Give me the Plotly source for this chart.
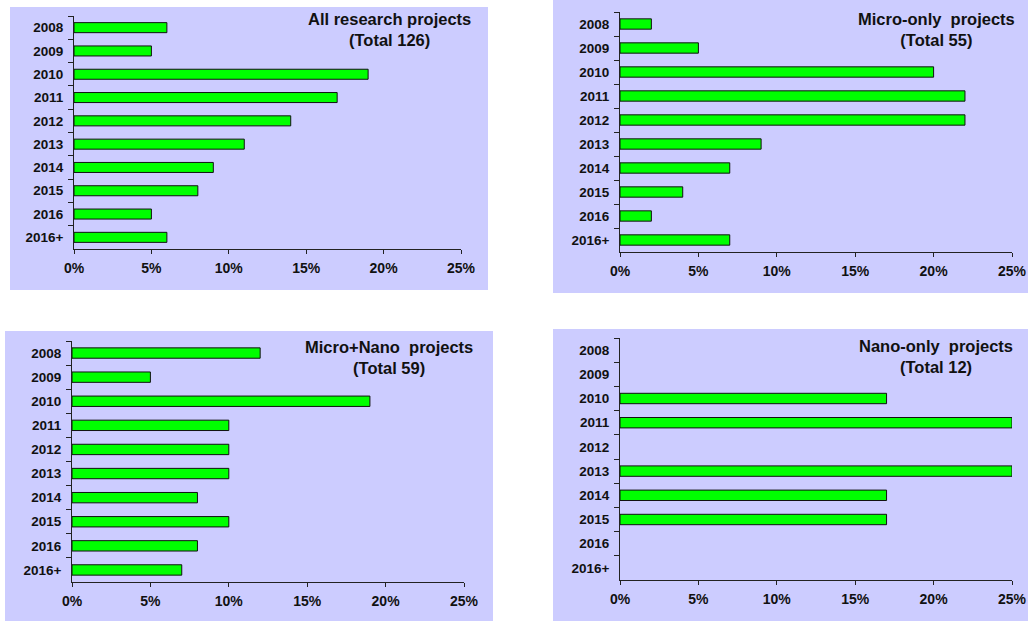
import plotly.graph_objects as go

# Share of projects by year (percent)
years = ["2008", "2009", "2010", "2011", "2012", "2013", "2014", "2015", "2016", "2016+"]
all_projects = [6, 5, 19, 17, 14, 11, 9, 8, 5, 6]
micro_only = [2, 5, 20, 22, 22, 9, 7, 4, 2, 7]
micro_nano = [12, 5, 19, 10, 10, 10, 8, 10, 8, 7]
nano_only = [0, 0, 17, 25, 0, 25, 17, 17, 0, 0]

panel_titles = [
    "All research projects<br>(Total 126)",
    "Micro-only\u00a0 projects<br>(Total 55)",
    "Micro+Nano\u00a0 projects<br>(Total 59)",
    "Nano-only\u00a0 projects<br>(Total 12)",
]
x_ticks = [0, 5, 10, 15, 20, 25]
x_tick_labels = [f"{v}%" for v in x_ticks]

W, H = 1028, 621
FONT = "Liberation Sans, Arial, sans-serif"
BG = "#CCCCFF"
BAR = "#00FF00"
AXIS = "#222222"
TEXT = "#111111"

# pixel layout of each panel: background box, plot area, title centre
layout_px = [
    dict(bg=(10, 7, 488, 290), plot=(74, 16, 461, 249), title=(389, 30)),
    dict(bg=(553, 0, 1028, 293), plot=(620, 12, 1012, 252), title=(936, 30)),
    dict(bg=(5, 331, 493, 621), plot=(72, 341, 464, 582), title=(389, 357)),
    dict(bg=(553, 329, 1028, 621), plot=(620, 338, 1012, 580), title=(936, 356)),
]
series = [all_projects, micro_only, micro_nano, nano_only]


def px_x(x):
    return x / W


def px_y(y):
    return 1 - y / H


fig = go.Figure()
shapes = []
annotations = []
axes = {}

for i, (vals, lay, title) in enumerate(zip(series, layout_px, panel_titles)):
    n = "" if i == 0 else str(i + 1)
    fig.add_trace(go.Bar(
        x=vals, y=years, orientation="h",
        xaxis="x" + n, yaxis="y" + n,
        marker=dict(
            color=BAR,
            # no outline for empty years so nothing is drawn there
            line=dict(color="#111111", width=[1 if v > 0 else 0 for v in vals]),
        ),
        showlegend=False,
    ))
    bx0, by0, bx1, by1 = lay["bg"]
    shapes.append(dict(
        type="rect", xref="paper", yref="paper", layer="below",
        x0=px_x(bx0), x1=px_x(bx1), y0=px_y(by1), y1=px_y(by0),
        fillcolor=BG, line=dict(width=0),
    ))
    px0, py0, px1, py1 = lay["plot"]
    axes["xaxis" + n] = dict(
        domain=[px_x(px0), px_x(px1)], anchor="y" + n,
        range=[0, 25], tickmode="array",
        tickvals=x_ticks, ticktext=x_tick_labels,
        showgrid=False, zeroline=False,
        showline=True, linecolor=AXIS, linewidth=1,
        ticks="outside", ticklen=4, tickcolor=AXIS, tickwidth=1,
        tickfont=dict(family=FONT, size=14, color=TEXT, weight="bold"),
        ticklabelstandoff=2, automargin=False, fixedrange=True,
    )
    axes["yaxis" + n] = dict(
        domain=[px_y(py1), px_y(py0)], anchor="x" + n,
        type="category", categoryorder="array", categoryarray=years,
        autorange="reversed",
        showgrid=False, zeroline=False,
        showline=True, linecolor=AXIS, linewidth=1,
        ticks="outside", ticklen=5, tickcolor=AXIS, tickwidth=1,
        tickson="boundaries",
        tickfont=dict(family=FONT, size=13.5, color=TEXT, weight="bold"),
        ticklabelstandoff=7, automargin=False, fixedrange=True,
    )
    tx, ty = lay["title"]
    annotations.append(dict(
        text=title, xref="paper", yref="paper",
        x=px_x(tx), y=px_y(ty), xanchor="center", yanchor="middle",
        showarrow=False, align="center",
        font=dict(family=FONT, size=16.5, color=TEXT, weight="bold"),
    ))

fig.update_layout(
    width=W, height=H,
    margin=dict(l=0, r=0, t=0, b=0),
    paper_bgcolor="white", plot_bgcolor="rgba(0,0,0,0)",
    bargap=0.57,
    font=dict(family=FONT, color=TEXT),
    shapes=shapes, annotations=annotations,
    **axes,
)

fig.write_html("out.html")
